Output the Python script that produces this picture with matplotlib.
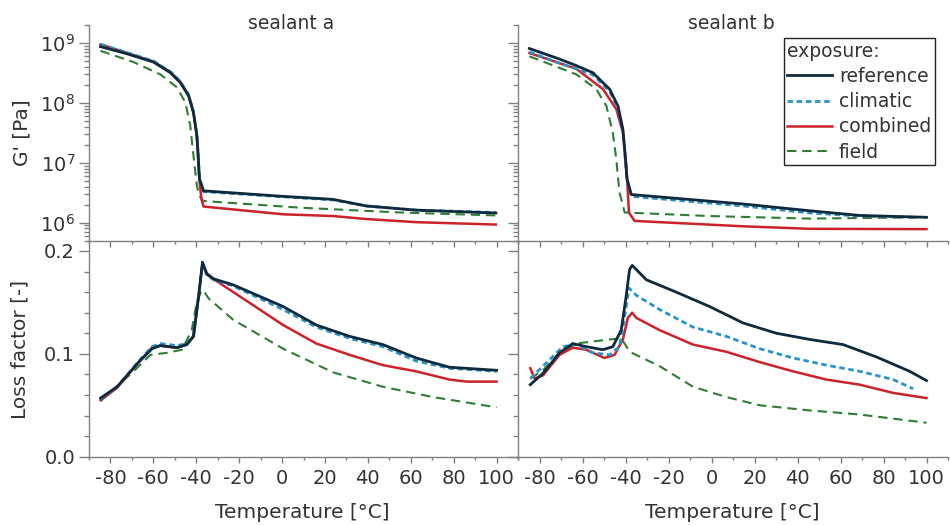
import matplotlib
matplotlib.use("Agg")
import matplotlib.pyplot as plt
from matplotlib.ticker import MultipleLocator, LogLocator, NullFormatter, FormatStrFormatter

plt.rcParams['font.family'] = ['DejaVu Sans']
plt.rcParams['axes.unicode_minus'] = False

# ---- storage modulus G' [Pa], sealant a ----
ref_a_T = [-84.6, -72.2, -59.9, -52.1, -47.5, -43.6, -41.3, -39.7, -39.2, -38.5, -36.6, 0.5, 23.8, 39.3, 62.5, 99.7]
ref_a_G = [8.7e8, 6.6e8, 4.8e8, 3.2e8, 2.2e8, 1.32e8, 6.9e7, 2.8e7, 1.48e7, 5.4e6, 3.4e6, 2.75e6, 2.45e6, 1.9e6, 1.62e6, 1.45e6]
cli_a_T = [-84.6, -72.2, -59.9, -52.1, -47.5, -43.6, -41.3, -39.7, -39.2, -38.5, -36.6, 0.5, 23.8, 39.3, 62.5, 99.7]
cli_a_G = [9.5e8, 6.9e8, 5.0e8, 3.35e8, 2.3e8, 1.38e8, 7.1e7, 2.9e7, 1.48e7, 5.4e6, 3.3e6, 2.7e6, 2.4e6, 1.9e6, 1.62e6, 1.48e6]
com_a_T = [-84.6, -72.2, -59.9, -52.1, -47.5, -43.6, -41.3, -39.7, -39.2, -38.5, -37.6, -36.6, 0.5, 23.8, 39.3, 62.5, 99.7]
com_a_G = [9.5e8, 6.8e8, 4.9e8, 3.3e8, 2.25e8, 1.35e8, 7.0e7, 2.8e7, 1.48e7, 5.0e6, 2.5e6, 1.86e6, 1.38e6, 1.29e6, 1.15e6, 1.02e6, 9.3e5]
fld_a_T = [-84.6, -69.2, -56.8, -49.0, -45.1, -42.8, -41.3, -39.7, -38.6, -36.6, 8.3, 54.8, 99.7]
fld_a_G = [7.4e8, 4.8e8, 3.0e8, 1.82e8, 1.02e8, 4.2e7, 1.32e7, 4.1e6, 2.8e6, 2.3e6, 1.78e6, 1.48e6, 1.32e6]

# ---- storage modulus G' [Pa], sealant b ----
ref_b_T = [-84.7, -70.7, -62.9, -55.2, -47.4, -43.5, -41.2, -40.4, -39.3, -37.3, 14.7, 45.7, 69.0, 100.0]
ref_b_G = [8.1e8, 5.4e8, 4.2e8, 3.2e8, 1.7e8, 8.9e7, 3.6e7, 1.7e7, 5.4e6, 2.95e6, 2.05e6, 1.58e6, 1.32e6, 1.23e6]
cli_b_T = [-84.7, -70.7, -62.9, -55.2, -47.4, -43.5, -41.2, -40.4, -39.3, -37.3, 14.7, 45.7, 69.0, 94.0]
cli_b_G = [7.1e8, 4.6e8, 3.7e8, 2.95e8, 1.55e8, 8.2e7, 3.3e7, 1.6e7, 5.0e6, 2.75e6, 1.9e6, 1.45e6, 1.29e6, 1.23e6]
com_b_T = [-84.7, -62.9, -50.5, -44.3, -41.2, -39.6, -38.4, -35.8, 14.7, 45.7, 100.0]
com_b_G = [6.8e8, 3.72e8, 1.7e8, 7.9e7, 3.2e7, 8.9e6, 1.48e6, 1.07e6, 8.7e5, 7.9e5, 7.8e5]
fld_b_T = [-84.7, -62.9, -53.6, -48.9, -45.9, -44.3, -42.8, -40.4, -0.9, 45.7, 100.0]
fld_b_G = [6.0e8, 3.0e8, 1.7e8, 8.9e7, 3.2e7, 1.15e7, 3.2e6, 1.48e6, 1.29e6, 1.17e6, 1.23e6]

# ---- loss factor [-], sealant a ----
ref_a_LT = [-84.6, -76.9, -66.8, -60.6, -56.8, -49.0, -44.4, -41.3, -38.9, -37.1, -35.1, -32.0, -22.7, 0.5, 16.0, 31.5, 47.0, 62.5, 78.0, 100.0]
ref_a_L = [0.057, 0.068, 0.092, 0.105, 0.108, 0.106, 0.109, 0.117, 0.156, 0.189, 0.178, 0.173, 0.167, 0.146, 0.128, 0.117, 0.109, 0.096, 0.087, 0.084]
cli_a_LT = [-84.6, -76.9, -66.8, -60.6, -56.8, -49.0, -44.4, -41.3, -38.9, -37.1, -35.1, -32.0, -22.7, 0.5, 16.0, 31.5, 47.0, 62.5, 78.0, 100.0]
cli_a_L = [0.056, 0.068, 0.093, 0.107, 0.110, 0.108, 0.110, 0.118, 0.156, 0.189, 0.177, 0.172, 0.166, 0.143, 0.126, 0.115, 0.107, 0.093, 0.086, 0.083]
com_a_LT = [-84.6, -76.9, -66.8, -60.6, -56.8, -49.0, -44.4, -41.3, -38.9, -37.1, -35.1, -22.7, 0.5, 16.0, 31.5, 47.0, 62.5, 78.0, 86.0, 100.0]
com_a_L = [0.055, 0.067, 0.092, 0.106, 0.108, 0.106, 0.109, 0.117, 0.156, 0.188, 0.177, 0.160, 0.128, 0.110, 0.099, 0.089, 0.083, 0.075, 0.073, 0.073]
fld_a_LT = [-84.6, -69.2, -61.4, -53.7, -46.7, -42.1, -39.7, -37.4, -35.8, -34.3, -22.7, 0.5, 23.8, 47.0, 70.3, 100.0]
fld_a_L = [0.054, 0.083, 0.099, 0.101, 0.104, 0.123, 0.151, 0.162, 0.159, 0.154, 0.133, 0.105, 0.082, 0.068, 0.058, 0.048]

# ---- loss factor [-], sealant b ----
ref_b_LT = [-84.3, -78.4, -70.7, -64.5, -58.3, -50.5, -45.9, -42.0, -39.7, -38.1, -36.9, -35.0, -30.3, -16.4, -0.9, 14.7, 30.2, 45.7, 61.2, 76.7, 92.2, 100.0]
ref_b_L = [0.070, 0.081, 0.101, 0.110, 0.107, 0.104, 0.107, 0.123, 0.156, 0.182, 0.186, 0.182, 0.172, 0.160, 0.146, 0.130, 0.120, 0.114, 0.109, 0.097, 0.083, 0.074]
cli_b_LT = [-84.3, -78.4, -69.1, -63.0, -55.2, -47.4, -42.8, -40.4, -38.4, -35.0, -24.1, -8.6, 6.9, 22.4, 37.9, 53.4, 69.0, 84.5, 93.8]
cli_b_L = [0.076, 0.088, 0.107, 0.109, 0.101, 0.099, 0.107, 0.136, 0.164, 0.157, 0.143, 0.126, 0.117, 0.105, 0.096, 0.089, 0.083, 0.075, 0.066]
com_b_LT = [-84.3, -82.3, -78.4, -70.7, -64.5, -58.3, -49.8, -45.1, -41.2, -38.9, -36.9, -35.0, -24.1, -8.6, 6.9, 22.4, 37.9, 53.4, 69.0, 84.5, 100.0]
com_b_L = [0.086, 0.076, 0.079, 0.099, 0.106, 0.104, 0.096, 0.099, 0.114, 0.135, 0.140, 0.135, 0.123, 0.109, 0.102, 0.092, 0.083, 0.075, 0.070, 0.062, 0.057]
fld_b_LT = [-84.3, -78.4, -70.7, -63.0, -55.2, -47.4, -42.0, -40.4, -38.1, -24.1, -8.6, 6.9, 22.4, 45.7, 69.0, 84.5, 100.0]
fld_b_L = [0.076, 0.084, 0.101, 0.110, 0.112, 0.114, 0.115, 0.110, 0.102, 0.088, 0.068, 0.058, 0.050, 0.045, 0.041, 0.037, 0.033]

panel_titles = ["sealant a", "sealant b"]
series_names = ["reference", "climatic", "combined", "field"]

# line styles for the four exposure conditions
styles = {
    "reference": dict(color="#0e2a3c", lw=2.0, ls="-", zorder=5),
    "climatic": dict(color="#2a93c9", lw=2.0, ls=(0, (2.0, 1.3)), zorder=4),
    "combined": dict(color="#cc2229", lw=1.8, ls="-", zorder=3),
    "field": dict(color="#2f7d34", lw=1.5, ls=(0, (4.5, 2.8)), zorder=2),
}

G_data = [
    {"reference": (ref_a_T, ref_a_G), "climatic": (cli_a_T, cli_a_G),
     "combined": (com_a_T, com_a_G), "field": (fld_a_T, fld_a_G)},
    {"reference": (ref_b_T, ref_b_G), "climatic": (cli_b_T, cli_b_G),
     "combined": (com_b_T, com_b_G), "field": (fld_b_T, fld_b_G)},
]
L_data = [
    {"reference": (ref_a_LT, ref_a_L), "climatic": (cli_a_LT, cli_a_L),
     "combined": (com_a_LT, com_a_L), "field": (fld_a_LT, fld_a_L)},
    {"reference": (ref_b_LT, ref_b_L), "climatic": (cli_b_LT, cli_b_L),
     "combined": (com_b_LT, com_b_L), "field": (fld_b_LT, fld_b_L)},
]

W, H = 950, 525
fig = plt.figure(figsize=(W / 100, H / 100), dpi=100)

def frac(x0, y0, x1, y1):
    return [x0 / W, 1 - y1 / H, (x1 - x0) / W, (y1 - y0) / H]

col_x = [(89, 518), (518, 948)]
top_y = (25, 240.7)
bot_y = (240.7, 456.7)

spine_col = "#808080"
text_col = "#333333"
fs_tick = 14
fs_label = 14.5
fs_title = 13.5
fs_leg = 13.5

def style_axis(ax, show_x, show_y):
    for s in ("top", "right"):
        ax.spines[s].set_visible(False)
    for s in ("left", "bottom"):
        ax.spines[s].set_color(spine_col)
        ax.spines[s].set_linewidth(1.0)
    ax.set_xlim(-90, 110)
    ax.xaxis.set_major_locator(MultipleLocator(20))
    ax.xaxis.set_minor_locator(MultipleLocator(10))
    ax.tick_params(axis="x", which="major", direction="out", length=4.5, width=1,
                   color=spine_col, labelcolor=text_col, labelsize=fs_tick, pad=4)
    ax.tick_params(axis="x", which="minor", direction="out", length=2.5, width=1, color=spine_col)
    ax.tick_params(axis="y", which="major", direction="out", length=7, width=1,
                   color=spine_col, labelcolor=text_col, labelsize=fs_tick, pad=3)
    ax.tick_params(axis="y", which="minor", direction="out", length=3.5, width=1, color=spine_col)
    if not show_x:
        ax.tick_params(axis="x", which="both", labelbottom=False)
    if not show_y:
        ax.tick_params(axis="y", which="both", labelleft=False)

axes_top, axes_bot = [], []
for i in range(2):
    axt = fig.add_axes(frac(col_x[i][0], top_y[0], col_x[i][1], top_y[1]))
    axb = fig.add_axes(frac(col_x[i][0], bot_y[0], col_x[i][1], bot_y[1]))
    axt.patch.set_alpha(0)
    axb.patch.set_alpha(0)

    for name in series_names:
        t, g = G_data[i][name]
        axt.plot(t, g, label=name, **styles[name])
        t, l = L_data[i][name]
        axb.plot(t, l, label=name, **styles[name])

    axt.set_yscale("log")
    axt.set_ylim(5e5, 2e9)
    axt.yaxis.set_major_locator(LogLocator(base=10, numticks=10))
    axt.yaxis.set_minor_locator(LogLocator(base=10, subs=range(2, 10), numticks=20))
    axt.yaxis.set_minor_formatter(NullFormatter())

    axb.set_ylim(0, 0.21)
    axb.yaxis.set_major_locator(MultipleLocator(0.1))
    axb.yaxis.set_minor_locator(MultipleLocator(0.02))
    axb.yaxis.set_major_formatter(FormatStrFormatter("%.1f"))

    style_axis(axt, show_x=False, show_y=(i == 0))
    style_axis(axb, show_x=True, show_y=(i == 0))
    axes_top.append(axt)
    axes_bot.append(axb)

# panel titles
fig.text(291 / W, 1 - 29 / H, panel_titles[0], ha="center", va="baseline", fontsize=fs_title, color=text_col)
fig.text(731 / W, 1 - 29 / H, panel_titles[1], ha="center", va="baseline", fontsize=fs_title, color=text_col)

# axis labels
fig.text(22 / W, 1 - 133 / H, "G' [Pa]", rotation=90, ha="center", va="center", fontsize=fs_label, color=text_col)
fig.text(20 / W, 1 - 349 / H, "Loss factor [-]", rotation=90, ha="center", va="center", fontsize=fs_label, color=text_col)
fig.text(302 / W, 1 - 512 / H, "Temperature [°C]", ha="center", va="center", fontsize=fs_label, color=text_col)
fig.text(732 / W, 1 - 512 / H, "Temperature [°C]", ha="center", va="center", fontsize=fs_label, color=text_col)

leg = axes_top[1].legend(title="exposure:", loc="upper right",
                         bbox_to_anchor=(935 / W, 1 - 38 / H), bbox_transform=fig.transFigure,
                         borderaxespad=0, frameon=True, fancybox=False, framealpha=1,
                         edgecolor="#222222", fontsize=fs_leg, title_fontsize=fs_leg,
                         handlelength=2.4, handletextpad=0.35, labelspacing=0.33,
                         borderpad=0.2, alignment="left")
leg.get_frame().set_linewidth(1.0)
for txt in leg.get_texts():
    txt.set_color(text_col)
leg.get_title().set_color(text_col)
leg.set_zorder(10)

fig.savefig("out.png", dpi=100)
